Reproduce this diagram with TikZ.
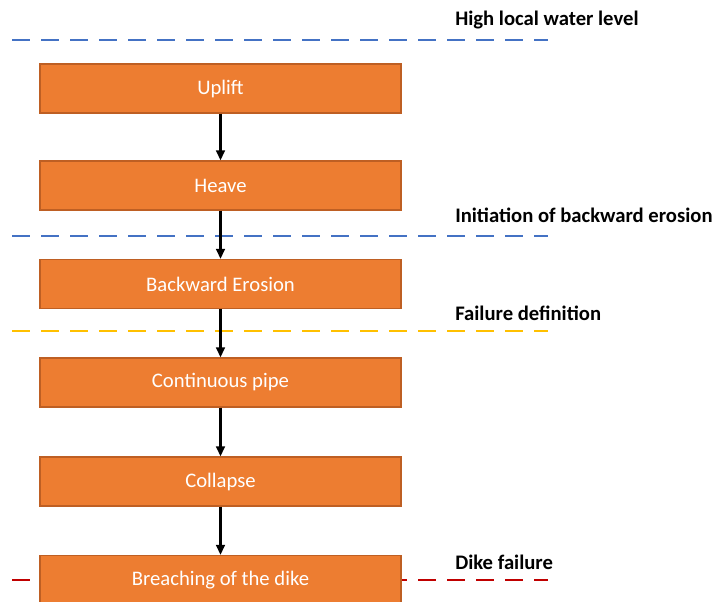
\documentclass[tikz,border=0pt]{standalone}
\usepackage{fontspec}
\setmainfont{Carlito}
\usepackage{tikz}
\usetikzlibrary{arrows.meta, positioning}
\definecolor{stagefill}{RGB}{237, 125, 49}
\definecolor{stageedge}{RGB}{190, 95, 35}
\definecolor{levelblue}{RGB}{68, 114, 196}
\definecolor{levelyellow}{RGB}{255, 192, 0}
\definecolor{levelred}{RGB}{192, 0, 0}

\begin{document}
\begin{tikzpicture}[
    x=0.75pt, y=-0.75pt,
    stage/.style={draw=stageedge, line width=0.9pt, fill=stagefill, text=white, minimum width=270.75pt, minimum height=36.75pt, inner sep=0pt, font=\fontsize{15.5}{18}\selectfont},
    level/.style={line width=2.2pt, dash pattern=on 13.5pt off 8.25pt},
    levellabel/.style={anchor=west, inner sep=0pt, font=\fontsize{15.5}{18}\selectfont\bfseries},
    arrow/.style={-{Triangle[length=7.5pt,width=6.5pt]}, line width=1.7pt, black}
]
    \clip (0,0) rectangle (715,602);
    \useasboundingbox (0,0) rectangle (715,602);

    % Water levels
    \coordinate (hwl-l) at (12,40);   \coordinate (hwl-r) at (548,40);
    \coordinate (ini-l) at (12,236);  \coordinate (ini-r) at (548,236);
    \coordinate (fail-l) at (12,331); \coordinate (fail-r) at (548,331);
    \coordinate (dike-l) at (12,580); \coordinate (dike-r) at (548,580);
    \draw[level, levelblue] (hwl-l) -- (hwl-r);
    \draw[level, levelblue] (ini-l) -- (ini-r);
    \draw[level, levelyellow] (fail-l) -- (fail-r);
    \draw[level, levelred] (dike-l) -- (dike-r);

    \node[levellabel] (hwl) at (455,20) {High local water level};
    \node[levellabel] (ini) at (455,215) {Initiation of backward erosion};
    \node[levellabel] (fail) at (455,313) {Failure definition};
    \node[levellabel] (dike) at (455,562) {Dike failure};

    % Stages
    \node[stage] (uplift) at (220.5,88.5) {Uplift};
    \node[stage] (heave) at (220.5,185.5) {Heave};
    \node[stage] (erosion) at (220.5,284) {Backward Erosion};
    \node[stage] (pipe) at (220.5,382.5) {Continuous pipe};
    \node[stage] (collapse) at (220.5,481.5) {Collapse};
    \node[stage] (breach) at (220.5,580) {Breaching of the dike};

    % Mechanism chain
    \draw[arrow] (uplift) -- (heave);
    \draw[arrow] (heave) -- (erosion);
    \draw[arrow] (erosion) -- (pipe);
    \draw[arrow] (pipe) -- (collapse);
    \draw[arrow] (collapse) -- (breach);
\end{tikzpicture}
\end{document}
